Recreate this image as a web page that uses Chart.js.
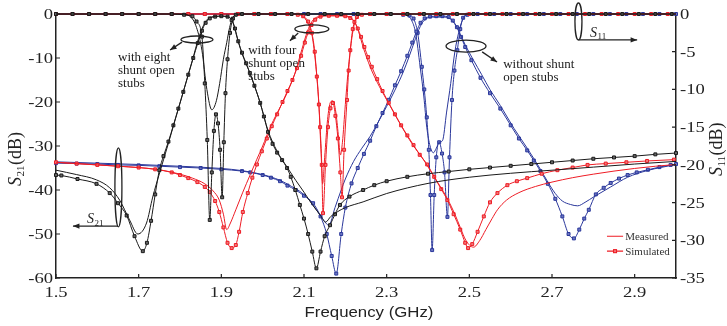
<!DOCTYPE html>
<html>
<head>
<meta charset="utf-8">
<script src="https://cdn.jsdelivr.net/npm/chart.js@4.4.0/dist/chart.umd.min.js"></script>
<style>
  html, body { margin: 0; padding: 0; background: #fff; }
  #wrap { width: 727px; height: 326px; position: relative; }
</style>
</head>
<body>
<div id="wrap"><canvas id="chart"></canvas></div>
<script>
// axis ticks
const freqTicks = [1.5, 1.7, 1.9, 2.1, 2.3, 2.5, 2.7, 2.9]
const s21Ticks = [0, -10, -20, -30, -40, -50, -60]
const s11Ticks = [0, -5, -10, -15, -20, -25, -30, -35]

// with eight shunt open stubs (black)  [GHz, dB]
const eightS21Meas = [[1.5,-35.5],[1.55,-36.5],[1.598,-37.7],[1.63,-39.5],[1.654,-42.3],[1.678,-46.8],[1.698,-50],[1.719,-47.5],[1.734,-41.6],[1.751,-36],[1.77,-30],[1.79,-23.5],[1.81,-17],[1.83,-10.5],[1.845,-5.5],[1.86,-2],[1.875,-0.7],[1.9,-0.5],[1.918,-0.7],[1.928,-1.8],[1.937,-5],[1.95,-9],[1.969,-13.4],[1.994,-20.2],[2.013,-26.5],[2.035,-31.2],[2.059,-34.8],[2.08,-37.8],[2.1,-40.5],[2.12,-43.3],[2.14,-45.8],[2.152,-47.3],[2.165,-46],[2.18,-45],[2.2,-44],[2.243,-42.7],[2.3,-40.8],[2.4,-38.5],[2.5,-37.1],[2.6,-36.2],[2.7,-35.5],[2.8,-34.8],[2.9,-34.1],[3.0,-33.5]]
const eightS21Sim = [[1.5,-36.6],[1.513,-36.7],[1.552,-37.5],[1.598,-38.6],[1.63,-40.7],[1.65,-43],[1.671,-45.8],[1.69,-50.5],[1.71,-53.9],[1.72,-52],[1.73,-47],[1.74,-41],[1.75,-35.5],[1.76,-32.3],[1.772,-29],[1.784,-25.3],[1.796,-21.5],[1.808,-17.7],[1.82,-13.8],[1.832,-10],[1.843,-6.6],[1.853,-3.8],[1.862,-2],[1.872,-1],[1.885,-0.6],[1.9,-0.5],[1.915,-0.6],[1.925,-1.4],[1.933,-3.3],[1.941,-6.2],[1.95,-8.8],[1.96,-11.2],[1.969,-13.4],[1.98,-16.3],[1.994,-20.2],[2.003,-23.3],[2.013,-26.8],[2.024,-29.5],[2.035,-31.5],[2.047,-33.2],[2.059,-35],[2.068,-37],[2.079,-40],[2.09,-43.4],[2.1,-46.5],[2.11,-50],[2.12,-54],[2.13,-57.8],[2.14,-54],[2.15,-50.5],[2.163,-48],[2.175,-45.5],[2.187,-43.4],[2.21,-41.5],[2.243,-40],[2.27,-38.9],[2.3,-38],[2.35,-37],[2.4,-36.3],[2.45,-35.8],[2.5,-35.3],[2.55,-34.9],[2.6,-34.5],[2.65,-34.1],[2.7,-33.7],[2.75,-33.3],[2.8,-32.9],[2.85,-32.6],[2.9,-32.3],[2.95,-31.9],[3.0,-31.6]]
const eightS11Meas = [[1.5,0],[1.8,0],[1.824,-0.3],[1.84,-1.8],[1.853,-4.8],[1.865,-10],[1.877,-12.7],[1.888,-11.5],[1.896,-9.2],[1.905,-6],[1.913,-3.8],[1.92,-1.8],[1.928,-0.4],[1.95,0],[3.0,0]]
const eightS11Sim = [[1.5,0],[1.54,0],[1.58,0],[1.62,0],[1.66,0],[1.7,0],[1.74,0],[1.78,0],[1.81,-0.1],[1.83,-0.3],[1.84,-1],[1.853,-3],[1.86,-9.2],[1.866,-16.7],[1.872,-27.3],[1.877,-21],[1.882,-15.5],[1.887,-13.3],[1.892,-14.5],[1.897,-18],[1.902,-24.3],[1.906,-17],[1.91,-10.5],[1.915,-6],[1.921,-2.5],[1.928,-0.6],[1.935,-0.1],[1.95,0],[1.99,0],[2.03,0],[2.07,0],[2.11,0],[2.15,0],[2.19,0],[2.23,0],[2.27,0],[2.31,0],[2.35,0],[2.39,0],[2.43,0],[2.47,0],[2.51,0],[2.55,0],[2.59,0],[2.63,0],[2.67,0],[2.71,0],[2.75,0],[2.79,0],[2.83,0],[2.87,0],[2.91,0],[2.95,0],[2.99,0]]

// with four shunt open stubs (red)
const fourS21Meas = [[1.5,-33.7],[1.6,-34.3],[1.7,-34.9],[1.75,-35.4],[1.8,-36.4],[1.83,-37.3],[1.86,-38.6],[1.88,-40.2],[1.895,-42.3],[1.905,-45.5],[1.913,-49],[1.922,-47.5],[1.935,-44.5],[1.952,-40.5],[1.97,-36.5],[1.986,-33],[2.0,-30],[2.017,-26],[2.035,-22.5],[2.054,-19],[2.078,-13.5],[2.095,-8],[2.108,-4],[2.12,-1.6],[2.135,-0.6],[2.16,-0.4],[2.19,-0.4],[2.21,-0.7],[2.222,-1.7],[2.232,-4],[2.243,-7.5],[2.26,-12],[2.277,-15.5],[2.3,-19.5],[2.325,-23.7],[2.345,-27],[2.365,-30],[2.385,-32.5],[2.405,-35.5],[2.425,-38.5],[2.447,-42],[2.465,-45.5],[2.478,-48.5],[2.492,-51.5],[2.51,-53],[2.525,-51.5],[2.54,-49],[2.555,-46.5],[2.568,-44.5],[2.59,-42.3],[2.62,-40.6],[2.66,-39.2],[2.7,-38.2],[2.75,-37.2],[2.8,-36.4],[2.85,-35.7],[2.9,-35.1],[2.95,-34.6],[3.0,-34.2]]
const fourS21Sim = [[1.5,-33.7],[1.55,-34],[1.6,-34.3],[1.65,-34.6],[1.7,-34.9],[1.74,-35.3],[1.78,-36],[1.8,-36.6],[1.82,-37.3],[1.842,-38.2],[1.86,-39.3],[1.872,-40.5],[1.885,-42.5],[1.895,-45],[1.905,-48.5],[1.915,-52],[1.925,-53.2],[1.935,-52.5],[1.943,-49.5],[1.952,-45],[1.964,-40.7],[1.975,-37.2],[1.986,-34.2],[1.998,-31.2],[2.01,-28.3],[2.022,-25.5],[2.035,-22.8],[2.048,-20],[2.06,-17.5],[2.072,-15],[2.083,-12.3],[2.093,-9.5],[2.102,-6.5],[2.11,-4.2],[2.118,-2.5],[2.127,-1.3],[2.14,-0.6],[2.16,-0.4],[2.18,-0.4],[2.2,-0.5],[2.212,-0.9],[2.222,-1.8],[2.23,-3.3],[2.238,-5.2],[2.246,-7.5],[2.255,-9.8],[2.264,-12],[2.277,-14.8],[2.29,-17.5],[2.305,-20.2],[2.32,-22.8],[2.335,-25.3],[2.35,-27.6],[2.365,-29.8],[2.38,-32],[2.398,-34.2],[2.415,-37],[2.432,-39.8],[2.447,-42.3],[2.462,-45.5],[2.478,-49],[2.49,-52],[2.497,-53.2],[2.507,-52.3],[2.52,-49.5],[2.535,-46],[2.55,-42.8],[2.568,-40.7],[2.592,-38.9],[2.615,-38],[2.64,-37.3],[2.675,-36.3],[2.713,-35.5],[2.75,-34.9],[2.786,-34.3],[2.83,-34],[2.88,-33.7],[2.93,-33.4],[2.995,-33.1]]
const fourS11Meas = [[1.5,0],[2.08,0],[2.095,-0.2],[2.11,-1.3],[2.12,-3],[2.128,-6.5],[2.135,-11],[2.141,-18],[2.145,-22.5],[2.15,-19],[2.157,-14],[2.164,-11.7],[2.17,-11.5],[2.177,-13],[2.183,-16],[2.188,-18.7],[2.193,-17],[2.2,-12],[2.206,-8],[2.212,-4.8],[2.22,-1.8],[2.23,-0.4],[2.25,0],[3.0,0]]
const fourS11Sim = [[1.5,0],[1.54,0],[1.58,0],[1.62,0],[1.66,0],[1.7,0],[1.74,0],[1.78,0],[1.82,0],[1.86,0],[1.9,0],[1.94,0],[1.98,0],[2.02,0],[2.06,0],[2.085,-0.1],[2.098,-0.3],[2.11,-1],[2.119,-2.5],[2.126,-5],[2.131,-8.3],[2.136,-12],[2.139,-15],[2.143,-20],[2.146,-26.4],[2.152,-20],[2.158,-15],[2.164,-12.5],[2.17,-11.8],[2.176,-13.5],[2.182,-16.5],[2.188,-21],[2.192,-24.3],[2.197,-18],[2.204,-11.4],[2.208,-7.5],[2.212,-4.8],[2.218,-2],[2.228,-0.4],[2.24,-0.1],[2.26,0],[2.3,0],[2.34,0],[2.38,0],[2.42,0],[2.46,0],[2.5,0],[2.54,0],[2.58,0],[2.62,0],[2.66,0],[2.7,0],[2.74,0],[2.78,0],[2.82,0],[2.86,0],[2.9,0],[2.94,0],[2.98,0]]

// without shunt open stubs (blue)
const noneS21Meas = [[1.5,-33.6],[1.6,-33.9],[1.7,-34.2],[1.8,-34.6],[1.9,-35.1],[1.95,-35.6],[2.0,-36.5],[2.042,-37.8],[2.07,-39.2],[2.09,-40.3],[2.11,-42],[2.13,-44.5],[2.145,-46.5],[2.16,-48],[2.175,-44],[2.19,-40],[2.2,-37.5],[2.22,-33.5],[2.24,-30.5],[2.26,-27.8],[2.28,-24.5],[2.3,-21],[2.32,-17.3],[2.34,-13.2],[2.355,-9.5],[2.367,-6.3],[2.378,-3.5],[2.39,-1.5],[2.41,-0.7],[2.44,-0.7],[2.455,-1.2],[2.467,-2.6],[2.478,-4.6],[2.49,-7],[2.51,-10.5],[2.53,-13.8],[2.55,-17.2],[2.575,-20.8],[2.608,-26],[2.64,-30.5],[2.672,-35.3],[2.69,-38.2],[2.708,-40.8],[2.725,-42.5],[2.745,-43.3],[2.762,-43.6],[2.78,-42.8],[2.802,-41.5],[2.842,-39.3],[2.883,-37.1],[2.93,-35.6],[3.0,-34.2]]
const noneS21Sim = [[1.5,-33.9],[1.55,-34],[1.6,-34.1],[1.65,-34.3],[1.7,-34.4],[1.75,-34.6],[1.8,-34.8],[1.85,-35],[1.9,-35.3],[1.95,-35.7],[1.97,-36],[2.0,-36.6],[2.02,-37.2],[2.042,-38],[2.06,-39],[2.08,-40],[2.1,-41.3],[2.122,-43],[2.14,-46],[2.155,-50],[2.167,-55],[2.178,-59],[2.19,-50],[2.2,-44],[2.215,-38.5],[2.23,-35],[2.245,-31.8],[2.26,-28.8],[2.275,-25.5],[2.29,-22.5],[2.305,-19.5],[2.32,-16.2],[2.335,-13],[2.35,-9.5],[2.362,-6.5],[2.372,-4],[2.382,-2],[2.392,-1],[2.405,-0.6],[2.42,-0.5],[2.435,-0.5],[2.45,-0.7],[2.46,-1.5],[2.47,-3],[2.48,-5.2],[2.49,-7.5],[2.505,-10.5],[2.527,-14.5],[2.55,-18],[2.575,-21.5],[2.6,-25.3],[2.62,-28.3],[2.64,-31],[2.656,-33.3],[2.672,-35.7],[2.69,-38.6],[2.708,-42],[2.725,-46],[2.74,-50],[2.753,-51],[2.766,-49],[2.778,-46.5],[2.789,-44.5],[2.806,-41],[2.825,-39.5],[2.842,-38.4],[2.862,-37.4],[2.883,-36.6],[2.905,-36],[2.932,-35.4],[2.96,-34.8],[2.987,-34.3],[3.0,-34.1]]
const noneS11Meas = [[1.5,0],[2.33,0],[2.35,-0.2],[2.36,-0.8],[2.37,-2.5],[2.381,-7],[2.39,-11],[2.397,-15],[2.405,-17.5],[2.413,-18.4],[2.42,-17.8],[2.427,-17],[2.435,-16.8],[2.445,-13],[2.455,-9.2],[2.465,-5],[2.474,-2.5],[2.482,-1],[2.49,-0.2],[2.51,0],[3.0,0]]
const noneS11Sim = [[1.5,0],[1.54,0],[1.58,0],[1.62,0],[1.66,0],[1.7,0],[1.74,0],[1.78,0],[1.82,0],[1.86,0],[1.9,0],[1.94,0],[1.98,0],[2.02,0],[2.06,0],[2.1,0],[2.14,0],[2.18,0],[2.22,0],[2.26,0],[2.3,0],[2.34,-0.1],[2.355,-0.2],[2.365,-0.6],[2.375,-2.5],[2.385,-7],[2.391,-10],[2.397,-13.7],[2.402,-18],[2.406,-24],[2.41,-31.3],[2.415,-24],[2.42,-19],[2.427,-17],[2.434,-18.5],[2.44,-21],[2.447,-26.9],[2.452,-19],[2.458,-11.4],[2.464,-7.5],[2.471,-4.8],[2.478,-2],[2.485,-0.5],[2.495,-0.1],[2.52,0],[2.56,0],[2.6,0],[2.64,0],[2.68,0],[2.72,0],[2.76,0],[2.8,0],[2.84,0],[2.88,0],[2.92,0],[2.96,0],[3.0,0]]

const RED = '#ee1c25'
const BLUE = '#2a379b'
const BLACK = '#1a1a1a'
const SERIF = '"Liberation Serif", "DejaVu Serif", serif'

function series(label, pts, color, fillColor, axis, sim) {
  return {
    label: label,
    data: pts.map(p => ({ x: p[0], y: p[1] })),
    yAxisID: axis,
    borderColor: color,
    borderWidth: 1,
    pointStyle: 'rect',
    pointRadius: sim ? 2.1 : 0,
    pointBorderWidth: 1,
    pointBorderColor: color,
    pointBackgroundColor: fillColor,
    cubicInterpolationMode: 'monotone',
    fill: false,
    clip: false
  }
}

function text(ctx, str, x, y, font, align, stretch) {
  ctx.save()
  ctx.translate(x, y)
  ctx.scale(stretch || 1, 1)
  ctx.font = font
  ctx.textAlign = align
  ctx.textBaseline = 'alphabetic'
  ctx.fillText(str, 0, 0)
  ctx.restore()
}

// "S" italic + subscript, optionally followed by "(dB)", optionally rotated
function sLabel(ctx, x, y, sub, size, tail, rotate) {
  ctx.save()
  ctx.translate(x, y)
  if (rotate) ctx.rotate(-Math.PI / 2)
  ctx.textAlign = 'left'
  ctx.textBaseline = 'alphabetic'
  ctx.font = 'italic ' + size + 'px ' + SERIF
  ctx.fillText('S', 0, 0)
  let w = ctx.measureText('S').width + 0.5
  ctx.font = Math.round(size * 0.62) + 'px ' + SERIF
  ctx.fillText(sub, w, size * 0.18)
  w += ctx.measureText(sub).width + 0.5
  if (tail) {
    ctx.font = size + 'px ' + SERIF
    ctx.fillText(tail, w, 0)
  }
  ctx.restore()
}

function arrow(ctx, x1, y1, x2, y2) {
  const a = Math.atan2(y2 - y1, x2 - x1), h = 7
  ctx.beginPath()
  ctx.moveTo(x1, y1)
  ctx.lineTo(x2, y2)
  ctx.stroke()
  ctx.beginPath()
  ctx.moveTo(x2, y2)
  ctx.lineTo(x2 - h * Math.cos(a - 0.38), y2 - h * Math.sin(a - 0.38))
  ctx.lineTo(x2 - h * Math.cos(a + 0.38), y2 - h * Math.sin(a + 0.38))
  ctx.closePath()
  ctx.fill()
}

function ellipse(ctx, cx, cy, rx, ry) {
  ctx.beginPath()
  ctx.ellipse(cx, cy, rx, ry, 0, 0, Math.PI * 2)
  ctx.stroke()
}

const overlay = {
  id: 'overlay',
  afterDraw(chart) {
    const ctx = chart.ctx
    const { left, right, bottom } = chart.chartArea
    const sx = chart.scales.x, sl = chart.scales.y, sr = chart.scales.y1
    const X = f => sx.getPixelForValue(f)
    const Y = v => sl.getPixelForValue(v)

    ctx.save()
    ctx.strokeStyle = '#222'
    ctx.fillStyle = '#222'
    ctx.lineWidth = 1.2

    // inward tick marks
    ctx.beginPath()
    freqTicks.forEach(v => { ctx.moveTo(X(v), bottom); ctx.lineTo(X(v), bottom - 4) })
    s21Ticks.forEach(v => { ctx.moveTo(left, Y(v)); ctx.lineTo(left + 4, Y(v)) })
    s11Ticks.forEach(v => { const y = sr.getPixelForValue(v); ctx.moveTo(right, y); ctx.lineTo(right - 4, y) })
    ctx.stroke()

    // tick labels
    const tickFont = '15.5px ' + SERIF
    freqTicks.forEach(v => text(ctx, v.toFixed(1), X(v), bottom + 19, tickFont, 'center', 1.2))
    s21Ticks.forEach(v => text(ctx, String(v), left - 3, Y(v) + 5, tickFont, 'right', 1.2))
    s11Ticks.forEach(v => text(ctx, String(v), right + 4, sr.getPixelForValue(v) + 5, tickFont, 'left', 1.2))

    // axis titles
    text(ctx, 'Frequency (GHz)', (left + right) / 2 + 3, bottom + 39, '14px "Liberation Sans", Arial, sans-serif', 'center', 1.2)
    sLabel(ctx, 21, 186, '21', 18, '(dB)', true)
    sLabel(ctx, 722, 176, '11', 18, '(dB)', true)

    // annotations
    ctx.lineWidth = 1.3
    const noteFont = '13px ' + SERIF
    ellipse(ctx, X(1.841), Y(-5.8), 16, 3.5)
    arrow(ctx, X(1.805), Y(-6.4), X(1.776), Y(-8.2))
    text(ctx, 'with eight', X(1.65), Y(-10.7), noteFont, 'left')
    text(ctx, 'shunt open', X(1.65), Y(-13.6), noteFont, 'left')
    text(ctx, 'stubs', X(1.65), Y(-16.6), noteFont, 'left')

    ellipse(ctx, X(2.119), Y(-3.4), 17, 4)
    arrow(ctx, X(2.086), Y(-4.3), X(2.066), Y(-6.1))
    text(ctx, 'with four', X(1.965), Y(-9.1), noteFont, 'left')
    text(ctx, 'shunt open', X(1.965), Y(-12.0), noteFont, 'left')
    text(ctx, 'stubs', X(1.965), Y(-15.0), noteFont, 'left')

    ellipse(ctx, X(2.492), Y(-7.3), 20, 6)
    arrow(ctx, X(2.531), Y(-8.6), X(2.567), Y(-10.9))
    text(ctx, 'without shunt', X(2.582), Y(-12.3), noteFont, 'left')
    text(ctx, 'open stubs', X(2.582), Y(-15.2), noteFont, 'left')

    ellipse(ctx, X(2.764), Y(-1.7), 3.5, 18.5)
    arrow(ctx, X(2.765), Y(-5.9), X(2.906), Y(-5.9))
    sLabel(ctx, X(2.792), Y(-5.2), '11', 14)

    ellipse(ctx, X(1.651), Y(-39.4), 3.5, 39.5)
    arrow(ctx, X(1.650), Y(-48.2), X(1.541), Y(-48.2))
    sLabel(ctx, X(1.575), Y(-47.5), '21', 14)

    // legend
    ctx.strokeStyle = RED
    ctx.lineWidth = 1.1
    ctx.beginPath()
    ctx.moveTo(X(2.833), Y(-50.5)); ctx.lineTo(X(2.872), Y(-50.5))
    ctx.moveTo(X(2.833), Y(-53.9)); ctx.lineTo(X(2.872), Y(-53.9))
    ctx.stroke()
    ctx.fillStyle = '#f07a7a'
    ctx.fillRect(X(2.8525) - 1.5, Y(-53.9) - 1.5, 3, 3)
    ctx.strokeRect(X(2.8525) - 1.5, Y(-53.9) - 1.5, 3, 3)
    ctx.fillStyle = '#333'
    text(ctx, 'Measured', X(2.877), Y(-51.4), '11px ' + SERIF, 'left')
    text(ctx, 'Simulated', X(2.877), Y(-54.8), '11px ' + SERIF, 'left')
    ctx.restore()
  }
}

const axisBorder = { display: true, color: '#222', width: 1.5 }

new Chart(document.getElementById('chart'), {
  type: 'line',
  data: {
    datasets: [
      series('S21 eight measured', eightS21Meas, BLACK, '#666', 'y', false),
      series('S21 eight simulated', eightS21Sim, BLACK, '#666', 'y', true),
      series('S11 eight measured', eightS11Meas, BLACK, '#666', 'y1', false),
      series('S11 eight simulated', eightS11Sim, BLACK, '#666', 'y1', true),
      series('S21 four measured', fourS21Meas, RED, '#f07a7a', 'y', false),
      series('S21 four simulated', fourS21Sim, RED, '#f07a7a', 'y', true),
      series('S11 four measured', fourS11Meas, RED, '#f07a7a', 'y1', false),
      series('S11 four simulated', fourS11Sim, RED, '#f07a7a', 'y1', true),
      series('S21 none measured', noneS21Meas, BLUE, '#6c76c0', 'y', false),
      series('S21 none simulated', noneS21Sim, BLUE, '#6c76c0', 'y', true),
      series('S11 none measured', noneS11Meas, BLUE, '#6c76c0', 'y1', false),
      series('S11 none simulated', noneS11Sim, BLUE, '#6c76c0', 'y1', true)
    ]
  },
  options: {
    responsive: true,
    maintainAspectRatio: false,
    animation: false,
    events: [],
    layout: { padding: { top: 14, left: 0, right: 0, bottom: 0 } },
    plugins: { legend: { display: false }, tooltip: { enabled: false } },
    scales: {
      x: {
        type: 'linear', min: 1.5, max: 3.0,
        afterBuildTicks: s => { s.ticks = freqTicks.map(v => ({ value: v })) },
        afterFit: s => { s.height = 48 },
        ticks: { display: false },
        grid: { display: false, drawTicks: false },
        border: axisBorder
      },
      y: {
        position: 'left', min: -60, max: 0,
        afterBuildTicks: s => { s.ticks = s21Ticks.map(v => ({ value: v })) },
        afterFit: s => { s.width = 56 },
        ticks: { display: false },
        grid: { display: false, drawTicks: false },
        border: axisBorder
      },
      y1: {
        position: 'right', min: -35, max: 0,
        afterBuildTicks: s => { s.ticks = s11Ticks.map(v => ({ value: v })) },
        afterFit: s => { s.width = 51 },
        ticks: { display: false },
        grid: { display: false, drawTicks: false },
        border: axisBorder
      }
    }
  },
  plugins: [overlay]
})
</script>
</body>
</html>
